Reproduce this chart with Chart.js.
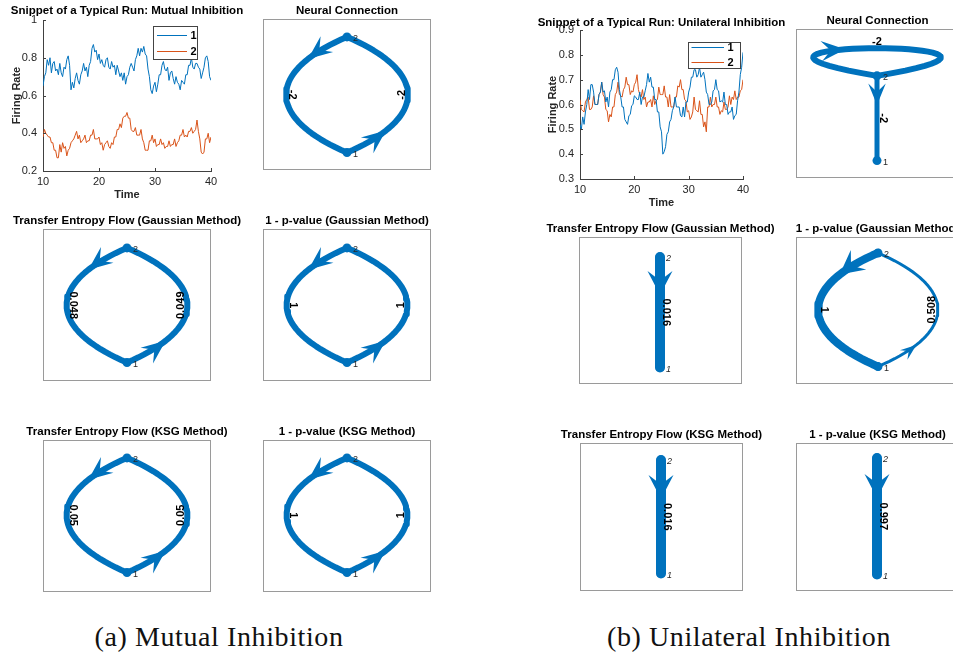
<!DOCTYPE html>
<html lang="en">
<head>
<meta charset="UTF-8">
<title>Mutual vs unilateral inhibition</title>
<script src="https://cdn.jsdelivr.net/npm/chart.js"></script>
<style>
  html, body { margin: 0; padding: 0; background: #fff; overflow: hidden; }
  body { width: 953px; height: 655px; position: relative; }
  .panel { position: absolute; }
  .caption { position: absolute; font-family: 'Liberation Serif', 'DejaVu Serif', serif; font-size: 28px;
             letter-spacing: 0.6px; line-height: 30px; color: #111; white-space: nowrap; transform: translateX(-50%); }
</style>
</head>
<body>
<div class="caption" style="left:219px; top:622px">(a) Mutual Inhibition</div>
<div class="caption" style="left:749px; top:622px">(b) Unilateral Inhibition</div>
<script>
// ---- time series (sampled every 0.25 time units from t = 10) ----
const tStart = 10, tStep = 0.25;
const neuronNames = ['1', '2'];
const timeTicks = [10, 20, 30, 40];
const mutualTicks = [0.2, 0.4, 0.6, 0.8, 1];
const unilateralTicks = [0.3, 0.4, 0.5, 0.6, 0.7, 0.8, 0.9];

const mutualRate1 = [
  0.65, 0.70, 0.72, 0.79,  0.76, 0.80, 0.72, 0.77,  0.78, 0.73, 0.74, 0.71,
  0.77, 0.72, 0.70, 0.75,  0.74, 0.79, 0.81, 0.76,  0.63, 0.67, 0.64, 0.69,
  0.72, 0.68, 0.66, 0.71,  0.73, 0.77, 0.73, 0.75,  0.70, 0.76, 0.78, 0.85,
  0.87, 0.83, 0.84, 0.79,  0.82, 0.77, 0.79, 0.76,  0.75, 0.79, 0.80, 0.75,
  0.74, 0.78, 0.75, 0.76,  0.71, 0.76, 0.73, 0.70,  0.72, 0.68, 0.72, 0.66,
  0.70, 0.71, 0.75, 0.77,  0.75, 0.73, 0.79, 0.81,  0.85, 0.81, 0.85, 0.83,
  0.86, 0.82, 0.81, 0.74,  0.70, 0.63, 0.61, 0.65,  0.67, 0.62, 0.66, 0.71,
  0.71, 0.76, 0.78, 0.74,  0.73, 0.75, 0.68, 0.72,  0.73, 0.69, 0.66, 0.70,
  0.67, 0.66, 0.63, 0.68,  0.67, 0.66, 0.71, 0.71,  0.76, 0.76, 0.80, 0.75,
  0.74, 0.77, 0.77, 0.75,  0.74, 0.69, 0.72, 0.75,  0.80, 0.81, 0.78, 0.70,
  0.68];
const mutualRate2 = [
  0.38, 0.42, 0.40, 0.39,  0.38, 0.38, 0.35, 0.35,  0.31, 0.31, 0.27, 0.27,
  0.34, 0.30, 0.35, 0.32,  0.33, 0.28, 0.31, 0.32,  0.35, 0.36, 0.37, 0.39,
  0.41, 0.37, 0.39, 0.35,  0.36, 0.37, 0.39, 0.35,  0.36, 0.36, 0.39, 0.39,
  0.42, 0.37, 0.37, 0.37,  0.38, 0.34, 0.35, 0.31,  0.34, 0.35, 0.36, 0.33,
  0.32, 0.35, 0.34, 0.38,  0.38, 0.42, 0.42, 0.45,  0.43, 0.48, 0.49, 0.49,
  0.51, 0.48, 0.48, 0.42,  0.41, 0.41, 0.43, 0.39,  0.39, 0.39, 0.42, 0.37,
  0.35, 0.31, 0.31, 0.31,  0.36, 0.36, 0.39, 0.35,  0.37, 0.33, 0.34, 0.34,
  0.37, 0.34, 0.35, 0.32,  0.33, 0.33, 0.36, 0.33,  0.34, 0.34, 0.37, 0.33,
  0.35, 0.36, 0.39, 0.39,  0.42, 0.38, 0.39, 0.38,  0.41, 0.41, 0.43, 0.40,
  0.41, 0.42, 0.47, 0.41,  0.37, 0.30, 0.29, 0.30,  0.37, 0.37, 0.40, 0.35,
  0.38];
const unilateralRate1 = [
  0.52, 0.50, 0.55, 0.52,  0.57, 0.60, 0.66, 0.62,  0.68, 0.68, 0.65, 0.60,
  0.60, 0.60, 0.64, 0.65,  0.69, 0.65, 0.655, 0.61,  0.63, 0.59, 0.65, 0.66,
  0.70, 0.70, 0.74, 0.75,  0.73, 0.66, 0.63, 0.59,  0.59, 0.54, 0.53, 0.52,
  0.555, 0.56, 0.595, 0.60,  0.635, 0.63, 0.62, 0.62,  0.65, 0.60, 0.63, 0.63,
  0.655, 0.68, 0.725, 0.69,  0.71, 0.67, 0.67, 0.62,  0.62, 0.57, 0.57, 0.51,
  0.49, 0.40, 0.41, 0.43,  0.48, 0.49, 0.53, 0.54,  0.575, 0.59, 0.63, 0.59,
  0.59, 0.59, 0.555, 0.55,  0.59, 0.55, 0.61, 0.61,  0.65, 0.67, 0.71, 0.71,
  0.74, 0.74, 0.71, 0.72,  0.75, 0.71, 0.72, 0.73,  0.70, 0.65, 0.64, 0.60,
  0.60, 0.61, 0.655, 0.66,  0.70, 0.66, 0.655, 0.61,  0.615, 0.61, 0.65, 0.60,
  0.60, 0.56, 0.57, 0.57,  0.59, 0.54, 0.555, 0.56,  0.615, 0.65, 0.72, 0.75,
  0.81];
const unilateralRate2 = [
  0.62, 0.58, 0.575, 0.57,  0.61, 0.62, 0.63, 0.58,  0.58, 0.59, 0.635, 0.60,
  0.60, 0.60, 0.64, 0.65,  0.69, 0.64, 0.63, 0.58,  0.575, 0.53, 0.56, 0.55,
  0.59, 0.59, 0.64, 0.65,  0.69, 0.64, 0.635, 0.63,  0.66, 0.67, 0.71, 0.68,
  0.68, 0.64, 0.655, 0.65,  0.68, 0.69, 0.72, 0.66,  0.64, 0.63, 0.66, 0.62,
  0.63, 0.59, 0.61, 0.61,  0.62, 0.59, 0.635, 0.60,  0.615, 0.62, 0.67, 0.64,
  0.64, 0.64, 0.675, 0.63,  0.63, 0.59, 0.64, 0.59,  0.59, 0.59, 0.63, 0.63,
  0.675, 0.67, 0.70, 0.66,  0.66, 0.62, 0.615, 0.57,  0.575, 0.54, 0.55, 0.57,
  0.63, 0.58, 0.575, 0.57,  0.615, 0.56, 0.56, 0.51,  0.53, 0.49, 0.59, 0.59,
  0.63, 0.59, 0.60, 0.60,  0.63, 0.59, 0.59, 0.56,  0.575, 0.57, 0.61, 0.58,
  0.58, 0.59, 0.635, 0.60,  0.63, 0.62, 0.655, 0.62,  0.63, 0.63, 0.655, 0.66,
  0.70];

// ---- directed graphs: node 1 below node 2, edges are [source, target] ----
const nodeLayout = [[0, 0], [0, 1]];
const mutualEdges = [[2, 1], [1, 2]];
const mutualWeights = [-2, -2];
const mutualTeGauss = [0.048, 0.049];
const mutualPGauss = [1, 1];
const mutualTeKsg = [0.05, 0.05];
const mutualPKsg = [1, 1];
const uniNeuralEdges = [[2, 2], [2, 1]];
const uniNeuralWeights = [-2, -2];
const uniFlowEdges = [[2, 1]];
const uniTeGauss = [0.016];
const uniPGauss = [1, 0.508];   // on mutualEdges: 2->1, 1->2
const uniTeKsg = [0.016];
const uniPKsg = [0.997];

const BLUE = '#0072BD', ORANGE = '#D95319';
const FONT = "'Liberation Sans', Arial, Helvetica, sans-serif";
Chart.defaults.font.family = FONT;
Chart.defaults.color = '#262626';

function placeCanvas(left, top, width, height) {
  const div = document.createElement('div');
  div.className = 'panel';
  Object.assign(div.style, {left: left + 'px', top: top + 'px', width: width + 'px', height: height + 'px'});
  const c = document.createElement('canvas');
  c.width = width; c.height = height;
  div.appendChild(c);
  document.body.appendChild(div);
  return c;
}

// bold title centred over the plot box
function titlePlugin(text, dy) {
  return {
    id: 'panelTitle',
    afterDraw(chart) {
      const {ctx, chartArea: a} = chart;
      ctx.save();
      ctx.font = 'bold 11.5px ' + FONT;
      ctx.fillStyle = '#000';
      ctx.textAlign = 'center';
      ctx.textBaseline = 'middle';
      ctx.fillText(text, (a.left + a.right) / 2, a.top + dy);
      ctx.restore();
    }
  };
}

// matlab style ticks pointing into the plot
const inwardTicks = {
  id: 'inwardTicks',
  afterDatasetsDraw(chart) {
    const {ctx, chartArea: a, scales: {x, y}} = chart;
    ctx.save();
    ctx.strokeStyle = '#404040';
    ctx.lineWidth = 1;
    ctx.beginPath();
    x.ticks.forEach(t => {
      const px = Math.round(x.getPixelForValue(t.value)) + 0.5;
      ctx.moveTo(px, a.bottom); ctx.lineTo(px, a.bottom - 3);
    });
    y.ticks.forEach(t => {
      const py = Math.round(y.getPixelForValue(t.value)) + 0.5;
      ctx.moveTo(a.left, py); ctx.lineTo(a.left + 3, py);
    });
    ctx.stroke();
    ctx.restore();
  }
};

// boxed legend inside the top right of the plot
function keyPlugin(k) {
  return {
    id: 'lineKey',
    afterDatasetsDraw(chart) {
      const {ctx, chartArea: a} = chart;
      const x0 = Math.round(a.right - k.right) + 0.5, y0 = Math.round(a.top + k.top) + 0.5;
      ctx.save();
      ctx.fillStyle = '#fff';
      ctx.fillRect(x0, y0, k.width, k.height);
      ctx.strokeStyle = '#444';
      ctx.lineWidth = 1;
      ctx.strokeRect(x0, y0, k.width, k.height);
      chart.data.datasets.forEach((ds, i) => {
        const yy = y0 + k.rows[i];
        ctx.strokeStyle = ds.borderColor;
        ctx.beginPath();
        ctx.moveTo(x0 + k.line[0], yy); ctx.lineTo(x0 + k.line[1], yy);
        ctx.stroke();
        ctx.fillStyle = '#000';
        ctx.font = 'bold 11px ' + FONT;
        ctx.textAlign = 'center';
        ctx.textBaseline = 'middle';
        ctx.fillText(ds.label, x0 + k.textX, yy);
      });
      ctx.restore();
    }
  };
}

function ratePanel(p) {
  const [cl, ct, cw, ch] = p.canvas;
  const canvas = placeCanvas(cl, ct, cw, ch);
  const series = (vals) => vals.map((v, i) => ({x: tStart + i * tStep, y: v}));
  new Chart(canvas, {
    type: 'line',
    data: {
      datasets: p.rates.map((r, i) => ({
        label: neuronNames[i], data: series(r),
        borderColor: [BLUE, ORANGE][i], borderWidth: 1, pointRadius: 0, tension: 0
      }))
    },
    options: {
      responsive: false, animation: false,
      layout: {padding: p.padding},
      plugins: {legend: {display: false}, tooltip: {enabled: false}},
      scales: {
        x: {
          type: 'linear', min: 10, max: 40,
          afterBuildTicks: s => { s.ticks = timeTicks.map(v => ({value: v})); },
          afterFit: s => { s.height = p.xAxisH; },
          grid: {display: false, drawTicks: false},
          border: {display: true, color: '#404040', width: 1},
          ticks: {padding: 4, maxRotation: 0, font: {size: 11}, callback: v => String(v)},
          title: {display: true, text: 'Time', color: '#262626', padding: p.xTitlePad,
                  font: {size: 11, weight: 'bold'}}
        },
        y: {
          min: p.yMin, max: p.yMax,
          afterBuildTicks: s => { s.ticks = p.yTicks.map(v => ({value: v})); },
          afterFit: s => { s.width = p.yAxisW; },
          grid: {display: false, drawTicks: false},
          border: {display: true, color: '#404040', width: 1},
          ticks: {padding: 6, font: {size: 11}, callback: v => String(v)},
          title: {display: true, text: 'Firing Rate', color: '#262626', padding: p.yTitlePad,
                  font: {size: 11, weight: 'bold'}}
        }
      }
    },
    plugins: [inwardTicks, keyPlugin(p.key), titlePlugin(p.title, p.titleDy)]
  });
}

// edge geometry in layout units: curved when the reverse edge exists, loop for self edges
const BEND = 0.7, LOOP_SPREAD = 2.6, LOOP_RISE = 0.435, SAMPLES = 41;
function edgeShape(edge, edges) {
  const [s, d] = edge;
  const p0 = nodeLayout[s - 1], p3 = nodeLayout[d - 1];
  let c1, c2, arrowAt;
  if (s === d) {
    c1 = [p0[0] - LOOP_SPREAD, p0[1] + LOOP_RISE];
    c2 = [p0[0] + LOOP_SPREAD, p0[1] + LOOP_RISE];
    arrowAt = 0.4;
  } else {
    const dx = p3[0] - p0[0], dy = p3[1] - p0[1];
    const bend = edges.some(e => e[0] === d && e[1] === s) ? BEND : 0;
    c1 = [p0[0] + 0.3 * dx + bend * dy, p0[1] + 0.3 * dy - bend * dx];
    c2 = [p0[0] + 0.7 * dx + bend * dy, p0[1] + 0.7 * dy - bend * dx];
    arrowAt = bend ? 0.2 : 0.36;
  }
  const pts = [];
  for (let i = 0; i < SAMPLES; i++) {
    const t = i / (SAMPLES - 1), u = 1 - t;
    const b0 = u * u * u, b1 = 3 * u * u * t, b2 = 3 * u * t * t, b3 = t * t * t;
    pts.push({x: b0 * p0[0] + b1 * c1[0] + b2 * c2[0] + b3 * p3[0],
              y: b0 * p0[1] + b1 * c1[1] + b2 * c2[1] + b3 * p3[1]});
  }
  return {pts, arrowAt};
}

// plot box, arrow heads, edge and node labels
const graphMarks = {
  id: 'graphMarks',
  beforeDatasetsDraw(chart) {
    const {ctx, chartArea: a} = chart;
    ctx.save();
    ctx.strokeStyle = '#9a9a9a';
    ctx.lineWidth = 1;
    ctx.strokeRect(Math.round(a.left) + 0.5, Math.round(a.top) + 0.5, Math.round(a.width) - 1, Math.round(a.height) - 1);
    ctx.restore();
  },
  afterDatasetsDraw(chart) {
    const ctx = chart.ctx;
    const sets = chart.data.datasets;
    sets.forEach((ds, i) => {
      if (ds.arrowAt === undefined) return;
      const pts = chart.getDatasetMeta(i).data;
      const k = Math.round(ds.arrowAt * (pts.length - 1));
      const tip = pts[k], a = pts[k - 1], b = pts[k + 1];
      let ux = b.x - a.x, uy = b.y - a.y;
      const n = Math.hypot(ux, uy); ux /= n; uy /= n;
      const lw = ds.borderWidth;
      const len = Math.min(24, 8 + 2.7 * lw), hw = Math.min(12.5, 2 + 1.35 * lw);
      const bx = tip.x - ux * len, by = tip.y - uy * len;
      ctx.save();
      ctx.fillStyle = ds.borderColor;
      ctx.beginPath();
      ctx.moveTo(tip.x, tip.y);
      ctx.lineTo(bx - uy * hw, by + ux * hw);
      ctx.lineTo(tip.x - ux * len * 0.6, tip.y - uy * len * 0.6);
      ctx.lineTo(bx + uy * hw, by - ux * hw);
      ctx.closePath();
      ctx.fill();
      ctx.restore();
    });
    sets.forEach((ds, i) => {
      const pts = chart.getDatasetMeta(i).data;
      ctx.save();
      if (ds.edgeLabel !== undefined) {
        const m = (pts.length - 1) / 2;
        const ang = Math.atan2(pts[m + 1].y - pts[m - 1].y, pts[m + 1].x - pts[m - 1].x);
        ctx.translate(pts[m].x, pts[m].y);
        ctx.rotate(ang);
        ctx.font = 'bold 11px ' + FONT;
        ctx.fillStyle = '#000';
        ctx.textAlign = 'center';
        ctx.textBaseline = 'middle';
        ctx.fillText(ds.edgeLabel, 0, -6);
      } else if (ds.nodeNames) {
        ctx.font = (ds.italicNames ? 'italic ' : '') + '9px ' + FONT;
        ctx.fillStyle = '#262626';
        ctx.textAlign = 'left';
        ctx.textBaseline = 'middle';
        pts.forEach((p, j) => ctx.fillText(ds.nodeNames[j], p.x + 6, p.y + 2));
      }
      ctx.restore();
    });
  }
};

function graphPanel(p) {
  const [l, t, w, h] = p.box;
  const unit = p.y1 - p.y2;              // pixels between node 1 and node 2
  const padX = 45, padTop = 24, padBottom = 4;
  const canvas = placeCanvas(l - padX, t - padTop, w + 2 * padX, h + padTop + padBottom);
  const edgeSets = p.edges.map((e, k) => {
    const shape = edgeShape(e, p.edges);
    return {
      data: shape.pts, showLine: true, pointRadius: 0, borderColor: BLUE,
      borderWidth: p.widths[k], borderCapStyle: 'round', borderJoinStyle: 'round',
      tension: 0, order: 1, arrowAt: shape.arrowAt, edgeLabel: String(p.values[k])
    };
  });
  const nodeSet = {
    data: nodeLayout.map(([x, y]) => ({x, y})), pointRadius: 4.5, pointBackgroundColor: BLUE,
    pointBorderWidth: 0, showLine: false, order: 0, nodeNames: neuronNames, italicNames: !!p.italic
  };
  new Chart(canvas, {
    type: 'scatter',
    data: {datasets: [nodeSet, ...edgeSets]},
    options: {
      responsive: false, animation: false,
      layout: {padding: {left: padX, right: padX, top: padTop, bottom: padBottom}},
      plugins: {legend: {display: false}, tooltip: {enabled: false}},
      scales: {
        x: {display: false, min: (l - p.cx) / unit, max: (l + w - p.cx) / unit},
        y: {display: false, min: (p.y1 - (t + h)) / unit, max: (p.y1 - t) / unit}
      }
    },
    plugins: [graphMarks, titlePlugin(p.title, -8.5)]
  });
}

// (a) mutual inhibition
ratePanel({
  title: 'Snippet of a Typical Run: Mutual Inhibition', titleDy: -9,
  canvas: [0, 0, 250, 205], padding: {left: 0, top: 20, right: 39, bottom: 0},
  yAxisW: 43, xAxisH: 34, yTitlePad: 10, xTitlePad: 3.4,
  rates: [mutualRate1, mutualRate2], yMin: 0.2, yMax: 1, yTicks: mutualTicks,
  key: {right: 58, top: 6, width: 44, height: 33, rows: [9, 25], line: [3.5, 33.5], textX: 40}
});
graphPanel({title: 'Neural Connection', box: [263, 19, 168, 151], cx: 347, y2: 37, y1: 153,
  edges: mutualEdges, values: mutualWeights, widths: [6, 6]});
graphPanel({title: 'Transfer Entropy Flow (Gaussian Method)', box: [43, 229, 168, 152], cx: 127, y2: 248, y1: 363,
  edges: mutualEdges, values: mutualTeGauss, widths: [6, 6]});
graphPanel({title: '1 - p-value (Gaussian Method)', box: [263, 229, 168, 152], cx: 347, y2: 248, y1: 363,
  edges: mutualEdges, values: mutualPGauss, widths: [6, 6]});
graphPanel({title: 'Transfer Entropy Flow (KSG Method)', box: [43, 440, 168, 152], cx: 127, y2: 458, y1: 573,
  edges: mutualEdges, values: mutualTeKsg, widths: [6, 6]});
graphPanel({title: '1 - p-value (KSG Method)', box: [263, 440, 168, 152], cx: 347, y2: 458, y1: 573,
  edges: mutualEdges, values: mutualPKsg, widths: [6, 6]});

// (b) unilateral inhibition
ratePanel({
  title: 'Snippet of a Typical Run: Unilateral Inhibition', titleDy: -7.5,
  canvas: [535, 0, 260, 215], padding: {left: 0, top: 30, right: 52, bottom: 0},
  yAxisW: 45, xAxisH: 36, yTitlePad: 11.4, xTitlePad: 5.1,
  rates: [unilateralRate1, unilateralRate2], yMin: 0.3, yMax: 0.9, yTicks: unilateralTicks,
  key: {right: 55, top: 12, width: 52, height: 26, rows: [5, 20], line: [3, 35.5], textX: 42}
});
graphPanel({title: 'Neural Connection', box: [796, 29, 163, 149], cx: 877, y2: 76, y1: 161,
  edges: uniNeuralEdges, values: uniNeuralWeights, widths: [6, 5]});
graphPanel({title: 'Transfer Entropy Flow (Gaussian Method)', box: [579, 237, 163, 147], cx: 660, y2: 257, y1: 368,
  edges: uniFlowEdges, values: uniTeGauss, widths: [10], italic: true});
graphPanel({title: '1 - p-value (Gaussian Method)', box: [796, 237, 163, 147], cx: 878, y2: 253, y1: 367,
  edges: mutualEdges, values: uniPGauss, widths: [8, 3]});
graphPanel({title: 'Transfer Entropy Flow (KSG Method)', box: [580, 443, 163, 148], cx: 661, y2: 460, y1: 574,
  edges: uniFlowEdges, values: uniTeKsg, widths: [10], italic: true});
graphPanel({title: '1 - p-value (KSG Method)', box: [796, 443, 163, 148], cx: 877, y2: 458, y1: 575,
  edges: uniFlowEdges, values: uniPKsg, widths: [10], italic: true});
</script>
</body>
</html>
